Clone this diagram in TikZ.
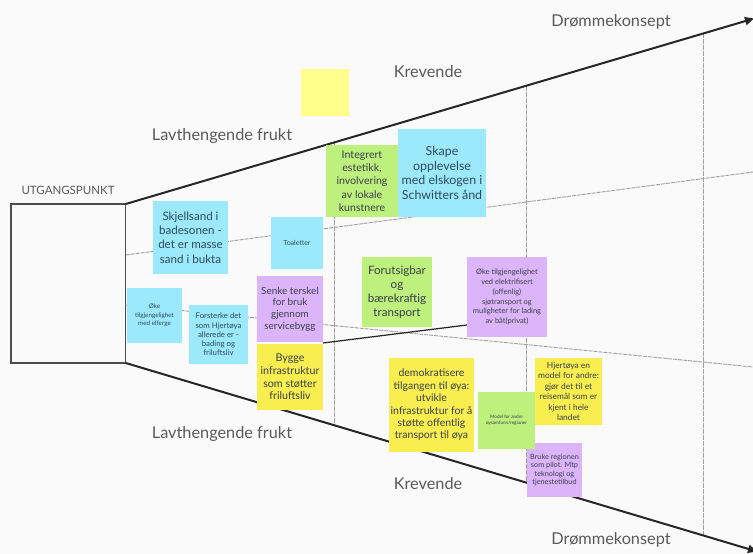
\documentclass[tikz,border=0pt]{standalone}
\usepackage{fontspec}
\setmainfont{Lato}
\usetikzlibrary{arrows.meta}
\definecolor{bg}{HTML}{FAFAFA}
\definecolor{ncyan}{HTML}{9BE9FA}
\definecolor{ngreen}{HTML}{BEF07D}
\definecolor{npurple}{HTML}{DCB4FA}
\definecolor{nyellow}{HTML}{F8EE50}
\definecolor{lyellow}{HTML}{FFFF8A}
\definecolor{labgray}{HTML}{5A5A5A}
\definecolor{ntext}{HTML}{3A3F4A}
\definecolor{ctext}{HTML}{2E4A5C}
\tikzset{
  note/.style={inner sep=0pt, align=center, text=ntext},
  lab/.style={text=labgray, font=\fontsize{16.3}{18}\selectfont},
  mainline/.style={line width=2pt, black!85},
  gridline/.style={gray!75, line width=0.9pt, dash pattern=on 4pt off 1pt},
  vline/.style={gray!75, line width=0.9pt, dash pattern=on 5pt off 1pt},
  link/.style={black!85, line width=1.2pt}
}
\newcommand{\fs}[2]{\fontsize{#1}{#2}\selectfont}
\begin{document}
\begin{tikzpicture}[x=1pt,y=-1pt]
\fill[bg] (0,0) rectangle (753,554);
\useasboundingbox (0,0) rectangle (753,554);
% funnel coordinates
\coordinate (tl) at (125.7,204);
\coordinate (bl) at (125.7,363);
\coordinate (tr) at (754,18.5);
\coordinate (br) at (757,551.5);
\coordinate (g1a) at (125.7,255);
\coordinate (g1b) at (753,172);
\coordinate (g2a) at (125.7,305);
\coordinate (g2b) at (753,367);
\coordinate (v1a) at (334,142.4);
\coordinate (v1b) at (334,425.1);
\coordinate (v2a) at (526,85.7);
\coordinate (v2b) at (526,482.4);
\coordinate (v3a) at (703,33.4);
\coordinate (v3b) at (703,535.2);
% start box
\node[draw=black!70, line width=1.5pt, minimum width=114.7pt, minimum height=159pt, inner sep=0pt] (start) at (68.35,283.5) {};
\node[text=labgray, font=\fs{11.5}{14}] (startlab) at (68,190) {UTGANGSPUNKT};
% grid lines
\draw[gridline] (g1a) -- (g1b);
\draw[gridline] (g2a) -- (g2b);
\draw[vline] (v1a) -- (v1b);
\draw[vline] (v2a) -- (v2b);
\draw[vline] (v3a) -- (v3b);
% main arrows
\draw[mainline, -{Triangle[length=9pt,width=8pt]}] (tl) -- (tr);
\draw[mainline, -{Triangle[length=9pt,width=8pt]}] (bl) -- (br);
% labels
\node[lab] (d1) at (611,22) {Drømmekonsept};
\node[lab] (k1) at (428,72) {Krevende};
\node[lab] (l1) at (222,136) {Lavthengende frukt};
\node[lab] (l2) at (222,434) {Lavthengende frukt};
\node[lab] (k2) at (428,484) {Krevende};
\node[lab] (d2) at (611,540) {Drømmekonsept};
% connector coordinates
\coordinate (cA) at (323,343);
\coordinate (cB) at (467,325);
\draw[link] (cA) -- (cB);
% sticky notes
\node[note, fill=lyellow, minimum width=48pt, minimum height=47pt] (ysq) at (325,92.5) {};
\node[note, fill=ncyan, text=ctext, minimum width=75pt, minimum height=73pt, font=\fs{11.6}{14.3}] (skjell) at (190.5,237.5) {Skjellsand i\\badesonen -\\det er masse\\sand i bukta};
\node[note, fill=ncyan, text=ctext, minimum width=52pt, minimum height=52pt, font=\fs{7}{8}] (toal) at (297,243) {Toaletter};
\node[note, fill=ngreen, minimum width=72pt, minimum height=72pt, font=\fs{10.6}{13.3}] (integ) at (362,181) {Integrert\\estetikk,\\involvering\\av lokale\\kunstnere};
\node[note, fill=ncyan, text=ctext, minimum width=88pt, minimum height=88pt, font=\fs{12.4}{14.7}] (skape) at (442,173) {Skape\\opplevelse\\med elskogen i\\Schwitters ånd};
\node[note, fill=ncyan, text=ctext, minimum width=55pt, minimum height=55pt, font=\fs{6.3}{8.3}] (okeel) at (154.5,315.5) {Øke\\tilgjengelighet\\med elferge};
\node[note, fill=ncyan, text=ctext, minimum width=59pt, minimum height=59pt, font=\fs{7.8}{9.3}] (forst) at (218.5,334.5) {Forsterke det\\som Hjertøya\\allerede er -\\bading og\\friluftsliv};
\node[note, fill=npurple, minimum width=66pt, minimum height=66pt, font=\fs{9.9}{11.6}] (senke) at (290,309) {Senke terskel\\for bruk\\gjennom\\servicebygg};
\node[note, fill=nyellow, minimum width=66pt, minimum height=66pt, font=\fs{10.7}{12.6}] (bygge) at (290,377) {Bygge\\infrastruktur\\som støtter\\friluftsliv};
\node[note, fill=ngreen, minimum width=70pt, minimum height=70pt, font=\fs{11.6}{14}] (forut) at (397,292) {Forutsigbar\\og\\bærekraftig\\transport};
\node[note, fill=npurple, minimum width=80pt, minimum height=80pt, font=\fs{7.5}{9.7}] (okepu) at (507,297) {Øke tilgjengelighet\\ved elektrifisert\\(offenlig)\\sjøtransport og\\muligheter for lading\\av båt(privat)};
\node[note, fill=nyellow, minimum width=85pt, minimum height=94pt, font=\fs{10.5}{12.4}] (demo) at (431.5,405) {demokratisere\\tilgangen til øya:\\utvikle\\infrastruktur for å\\støtte offentlig\\transport til øya};
\node[note, fill=npurple, minimum width=55pt, minimum height=54pt, font=\fs{7.3}{8.4}] (bruke) at (554.5,470) {Bruke regionen\\som pilot. Mtp\\teknologi og\\tjenestetilbud};
\node[note, fill=ngreen, minimum width=57pt, minimum height=57pt, font=\fs{4.6}{6}] (model) at (506.5,420.5) {Model for andre\\øysamfunn/regioner};
\node[note, fill=nyellow, minimum width=67pt, minimum height=67pt, font=\fs{8.4}{10.4}] (hjert) at (568.5,391.5) {Hjertøya en\\model for andre:\\gjør det til et\\reisemål som er\\kjent i hele\\landet};
\end{tikzpicture}
\end{document}
